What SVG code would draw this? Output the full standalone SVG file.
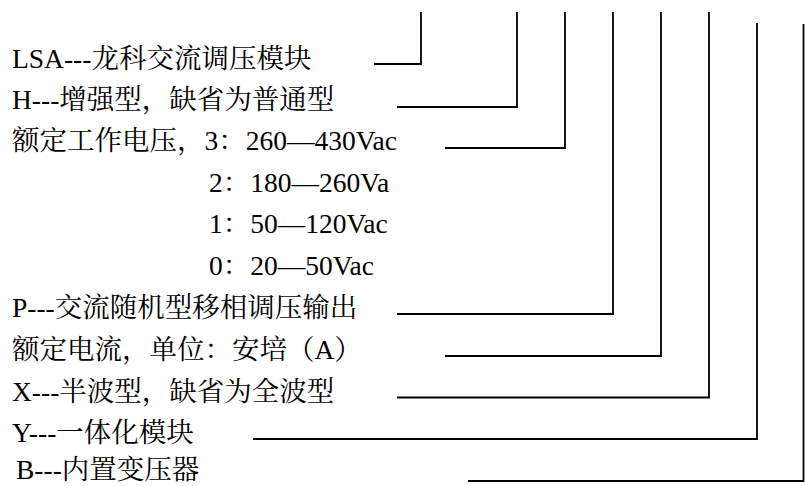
<svg xmlns="http://www.w3.org/2000/svg" width="805" height="486" viewBox="0 0 805 486">
<style>
.t{font-family:"Liberation Serif","Noto Serif CJK SC","Noto Sans CJK SC",serif;font-size:27.5px;fill:#000}
.c{fill:none;stroke:#000;stroke-width:1.8}
</style>
<rect width="805" height="486" fill="#fff"/>
<g id="n-lsa"><text class="t" x="12" y="68">LSA---龙科交流调压模块</text></g>
<g id="n-h"><text class="t" x="12" y="109">H---增强型，缺省为普通型</text></g>
<g id="n-voltage">
<text class="t" x="12" y="150">额定工作电压，3：260—430Vac</text>
<text class="t" x="209" y="192">2：180—260Va</text>
<text class="t" x="209" y="233">1：50—120Vac</text>
<text class="t" x="209" y="275">0：20—50Vac</text>
</g>
<g id="n-p"><text class="t" x="12" y="317">P---交流随机型移相调压输出</text></g>
<g id="n-current"><text class="t" x="12" y="359">额定电流，单位：安培（A）</text></g>
<g id="n-x"><text class="t" x="12" y="401">X---半波型，缺省为全波型</text></g>
<g id="n-y"><text class="t" x="12" y="442">Y---一体化模块</text></g>
<g id="n-b"><text class="t" x="16" y="479">B---内置变压器</text></g>
<g id="connectors">
<polyline class="c" points="374,64 421,64 421,12"/>
<polyline class="c" points="397,107 517,107 517,12"/>
<polyline class="c" points="445,148 565,148 565,12"/>
<polyline class="c" points="397,314 613,314 613,12"/>
<polyline class="c" points="445,356 661,356 661,12"/>
<polyline class="c" points="397,397.5 709,397.5 709,12"/>
<polyline class="c" points="253,439 757,439 757,23"/>
<polyline class="c" points="468,481 803.5,481 803.5,24"/>
</g>
</svg>
